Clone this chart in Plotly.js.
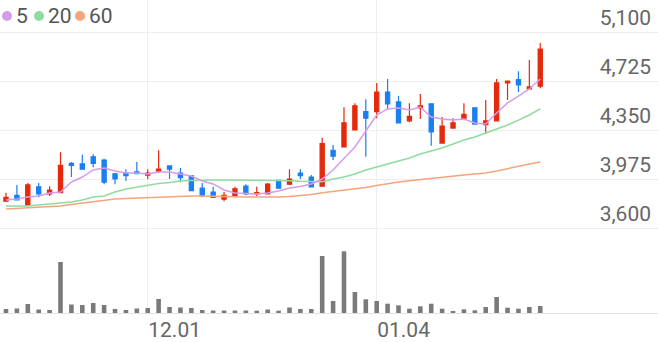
<!DOCTYPE html>
<html><head><meta charset="utf-8">
<script src="https://cdn.plot.ly/plotly-3.0.1.min.js"></script>
<style>html,body{margin:0;padding:0;background:#fff}#chart{width:658px;height:342px}</style>
</head><body><div id="chart"></div>
<script>
// Daily OHLC
const openP  = [3805,3850,3775,3915,3860,3870,4095,4090,4145,4120, 4015,4020,4030,4005,4035,4075,4020,4000,3905,3875, 3820,3850,3920,3860,3860,3965,3935,4020,3990,3920, 4195,4220,4350,4490,4490,4640,4565,4420,4520,4550, 4250,4365,4435,4520,4390,4420,4710,4735,4665,4685];
const highP  = [3870,3930,3945,3945,3920,4180,4105,4160,4165,4130, 4020,4050,4105,4050,4195,4075,4060,4000,3945,3915, 3875,3915,3935,3915,3945,3965,4050,4050,4005,4290, 4235,4525,4555,4585,4710,4740,4610,4555,4625,4555, 4450,4440,4555,4520,4580,4740,4725,4800,4885,5015];
const lowP   = [3800,3815,3775,3835,3845,3870,3990,4050,4065,3935, 3935,3960,4015,3975,4020,3975,3950,3885,3835,3830, 3805,3835,3850,3845,3860,3905,3930,3975,3915,3920, 4120,4220,4350,4145,4440,4505,4405,4410,4435,4230, 4250,4365,4425,4395,4320,4420,4580,4640,4665,4670];
const closeP = [3835,3815,3930,3860,3890,4080,4080,4050,4095,3950, 3975,4000,4015,4020,4050,4050,3985,3885,3845,3835, 3850,3900,3860,3870,3935,3905,3975,4000,3915,4245, 4150,4405,4535,4440,4640,4550,4405,4455,4535,4335, 4380,4405,4470,4395,4420,4710,4725,4695,4680,4970];
// Moving averages
const ma5  = [3814,3822,3837,3845,3868,3876,3952,3990,4044,4059, 4036,4021,4021,4013,4029,4029,4013,3998,3960,3937, 3891,3868,3864,3860,3868,3883,3906,3918,3937,3975, 4044,4128,4220,4342,4465,4511,4518,4503,4526,4449, 4434,4426,4434,4404,4396,4480,4557,4610,4664,4740];
const ma20 = [3768,3768,3768,3776,3784,3791,3799,3814,3837,3845, 3876,3898,3914,3929,3941,3948,3960,3964,3967,3967, 3967,3967,3967,3967,3967,3965,3962,3958,3954,3954, 3975,3990,4013,4044,4067,4090,4113,4136,4166,4189, 4212,4243,4273,4296,4327,4358,4388,4426,4465,4511];
const ma60 = [3745,3749,3753,3757,3761,3768,3780,3791,3803,3814, 3822,3826,3830,3833,3837,3840,3841,3845,3845,3845, 3841,3840,3837,3836,3835,3837,3841,3849,3856,3870, 3879,3889,3898,3910,3925,3941,3952,3961,3971,3979, 3986,3998,4006,4013,4021,4036,4055,4074,4090,4105];
// Volume (thousand shares, relative)
const volume = [40,45,90,35,30,510,85,80,100,80, 40,30,45,50,140,60,55,50,30,25, 25,25,25,23,35,23,55,40,40,570, 120,617,210,137,120,93,77,43,67,93, 43,20,37,27,60,160,53,43,60,70];
// Axis labels
const xTickIdx = [13, 34];
const xTickText = ['12.01', '01.04'];
const yTickVals = [3600, 3975, 4350, 4725, 5100];
const maLabels = ['5', '20', '60'];

const maColors = ['#d69cec', '#8edc9f', '#f7a47c'];
const xIdx = openP.map((_, i) => i);

const traces = [
  {type:'scatter', mode:'lines', x:xIdx, y:ma60, line:{color:maColors[2], width:1.5}, hoverinfo:'skip', xaxis:'x', yaxis:'y'},
  {type:'scatter', mode:'lines', x:xIdx, y:ma20, line:{color:maColors[1], width:1.5}, hoverinfo:'skip', xaxis:'x', yaxis:'y'},
  {type:'scatter', mode:'lines', x:xIdx, y:ma5, line:{color:maColors[0], width:1.5}, hoverinfo:'skip', xaxis:'x', yaxis:'y'},
  {type:'candlestick', x:xIdx, open:openP, high:highP, low:lowP, close:closeP,
   increasing:{line:{color:'#e42a0c', width:1.2}, fillcolor:'#e42a0c'},
   decreasing:{line:{color:'#1a7ff0', width:1.2}, fillcolor:'#1a7ff0'},
   whiskerwidth:0, xaxis:'x', yaxis:'y'},
  {type:'bar', x:xIdx, y:volume, marker:{color:'#7a7a7a'}, width:0.42, xaxis:'x', yaxis:'y2'}
];

const split = 78/313;
const shapes = [], annotations = [];
const legX = [7, 39, 80];
maLabels.forEach((lab, i) => {
  shapes.push({type:'circle', xref:'paper', yref:'paper', xsizemode:'pixel', ysizemode:'pixel',
    xanchor: legX[i]/658, yanchor: 1 - 16/313, x0:-5, x1:5, y0:-5, y1:5,
    fillcolor: maColors[i], line:{width:0}});
  annotations.push({xref:'paper', yref:'paper', x:(legX[i]+7)/658, y:1 - 16/313, xanchor:'left', yanchor:'middle',
    text: lab, showarrow:false, font:{family:'Roboto', size:21, color:'#555'}});
});

const layout = {
  width:658, height:342,
  margin:{l:0, r:0, t:0, b:29},
  paper_bgcolor:'#fff', plot_bgcolor:'#fff',
  showlegend:false,
  boxgap:0.45,
  xaxis:{range:[-0.55, 59.8], anchor:'y2', tickvals:xTickIdx, ticktext:xTickText,
    ticklabelposition:'outside right', ticklabelstandoff:-2,
    showgrid:true, gridcolor:'#eeeeee', gridwidth:1, zeroline:false,
    showline:true, linecolor:'#e3e3e3', linewidth:1, ticks:'',
    tickfont:{family:'Roboto', size:21, color:'#666'},
    rangeslider:{visible:false}, fixedrange:true},
  yaxis:{domain:[split, 1], range:[3546.4, 5344.9], side:'right', ticklabelposition:'inside',
    tickvals:yTickVals, tickformat:',d', showgrid:true, gridcolor:'#eeeeee', gridwidth:1,
    zeroline:false, ticks:'', ticklabelshift:-14, ticklabelstandoff:4,
    tickfont:{family:'Roboto', size:21, color:'#666'}},
  yaxis2:{domain:[0, split], range:[0, 780], showgrid:false, zeroline:false, showticklabels:false, ticks:''},
  shapes:shapes,
  annotations:annotations
};

Plotly.newPlot('chart', traces, layout, {staticPlot:true, displayModeBar:false});
</script></body></html>
